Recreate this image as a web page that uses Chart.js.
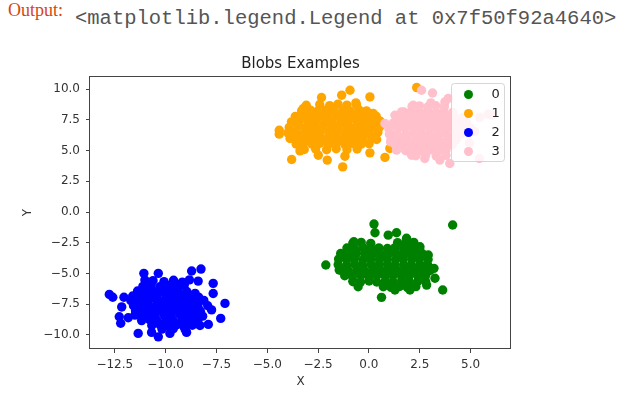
<!DOCTYPE html>
<html>
<head>
<meta charset="utf-8">
<script src="https://cdn.jsdelivr.net/npm/chart.js@4"></script>
<style>
  html, body { margin: 0; padding: 0; background: #fff; }
  #wrap { position: relative; width: 632px; height: 394px; overflow: hidden; }
  #chart { position: absolute; left: 0; top: 0; }
  .prompt { position: absolute; left: 8px; top: 1.4px; font: 18px/18px "Liberation Serif"; color: #D84315; }
  .out { position: absolute; left: 75px; top: 9.3px; font: 20.5px/20.5px "Liberation Mono"; color: #555; white-space: pre; }
</style>
</head>
<body>
<div id="wrap">
  <div class="prompt">Output:</div>
  <div class="out">&lt;matplotlib.legend.Legend at 0x7f50f92a4640&gt;</div>
  <canvas id="chart" width="632" height="394"></canvas>
</div>
<script>
const seriesLabels = ["0", "1", "2", "3"];
const seriesColors = ["green", "orange", "blue", "pink"];

// cluster 0
const blob0 = [
  [-2.12,-4.31],[0.25,-0.98],[0.30,-1.69],[4.12,-1.06],[3.63,-6.34],[0.62,-6.94],[-0.53,-6.08],[-0.77,-5.67],
  [-1.34,-3.64],[-1.46,-4.72],[-0.74,-2.42],[0.95,-1.88],[1.36,-1.69],[1.85,-2.14],[2.51,-2.83],[2.92,-3.50],
  [3.20,-4.58],[3.25,-5.39],[2.84,-5.94],[2.02,-6.34],[1.28,-6.34],
  [-0.79,-2.52],[-0.38,-2.47],[0.09,-2.55],[1.41,-2.49],[1.79,-2.54],[2.21,-2.47],
  [-1.08,-2.93],[-0.71,-2.98],[-0.29,-2.91],[0.11,-2.99],[0.49,-2.92],[0.91,-2.97],[1.29,-2.90],[1.71,-2.98],[2.09,-2.92],[2.49,-2.96],
  [-1.39,-3.38],[-0.98,-3.43],[-0.61,-3.36],[-0.19,-3.44],[0.21,-3.37],[0.58,-3.42],[1.01,-3.35],[1.39,-3.43],[1.81,-3.37],[2.19,-3.42],[2.61,-3.36],
  [-1.49,-3.83],[-1.09,-3.88],[-0.71,-3.81],[-0.29,-3.89],[0.09,-3.82],[0.51,-3.87],[0.89,-3.80],[1.31,-3.88],[1.69,-3.82],[2.11,-3.87],[2.49,-3.81],[2.91,-3.86],
  [-1.51,-4.28],[-1.09,-4.33],[-0.69,-4.26],[-0.31,-4.34],[0.11,-4.27],[0.49,-4.32],[0.91,-4.25],[1.29,-4.33],[1.71,-4.27],[2.09,-4.32],[2.51,-4.26],[2.89,-4.31],
  [-1.38,-4.73],[-1.01,-4.78],[-0.59,-4.71],[-0.21,-4.79],[0.19,-4.72],[0.61,-4.77],[0.99,-4.70],[1.41,-4.78],[1.79,-4.72],[2.21,-4.77],[2.59,-4.71],[3.01,-4.76],
  [-1.19,-5.18],[-0.81,-5.23],[-0.39,-5.16],[0.01,-5.24],[0.39,-5.17],[0.81,-5.22],[1.19,-5.15],[1.61,-5.23],[1.99,-5.17],[2.41,-5.22],[2.79,-5.16],
  [-0.79,-5.63],[-0.41,-5.68],[0.01,-5.61],[0.39,-5.69],[0.81,-5.62],[1.19,-5.67],[1.61,-5.60],[1.99,-5.68],[2.41,-5.62],[2.79,-5.66],
  [0.71,-6.08],[1.09,-6.13],[1.51,-6.06],[1.89,-6.14],[2.31,-6.07]
];

// cluster 1
const blob1 = [
  [-4.41,6.65],[-4.41,6.33],[-3.80,4.27],[-3.39,4.97],[-2.49,4.62],[-2.05,4.22],[-1.29,3.67],[-1.18,4.54],
  [0.05,4.81],[0.79,4.44],[-0.93,9.90],[-1.34,9.50],[0.05,9.36],[-2.33,9.31],[-3.23,8.42],[-0.64,8.87],
  [0.21,8.01],[0.38,5.90],[2.35,10.12],[-2.77,8.06],[0.46,7.20],[1.03,5.17],
  [-3.08,8.68],[-2.42,8.74],[-1.93,8.65],[-1.52,8.77],[-1.08,8.69],[-0.61,8.72],
  [-3.31,8.22],[-2.88,8.28],[-2.52,8.21],[-2.09,8.30],[-1.71,8.23],[-1.28,8.27],[-0.91,8.19],[-0.48,8.29],[-0.12,8.22],
  [-3.62,7.78],[-3.19,7.84],[-2.81,7.76],[-2.38,7.83],[-2.01,7.77],[-1.58,7.85],[-1.21,7.76],[-0.79,7.82],[-0.41,7.75],[0.02,7.84],[0.36,7.79],
  [-3.81,7.33],[-3.42,7.38],[-2.99,7.31],[-2.61,7.39],[-2.18,7.32],[-1.81,7.37],[-1.39,7.30],[-1.01,7.38],[-0.58,7.33],[-0.21,7.36],[0.19,7.31],[0.56,7.38],
  [-3.92,6.88],[-3.48,6.94],[-3.11,6.86],[-2.69,6.93],[-2.31,6.87],[-1.88,6.95],[-1.52,6.86],[-1.09,6.92],[-0.71,6.85],[-0.28,6.94],[0.09,6.88],[0.52,6.91],
  [-3.98,6.43],[-3.61,6.48],[-3.18,6.41],[-2.79,6.47],[-2.41,6.42],[-1.98,6.49],[-1.61,6.40],[-1.19,6.46],[-0.79,6.42],[-0.39,6.48],[0.01,6.41],[0.44,6.47],
  [-3.88,5.98],[-3.49,6.04],[-3.09,5.96],[-2.71,6.03],[-2.29,5.97],[-1.91,6.05],[-1.49,5.96],[-1.11,6.02],[-0.69,5.97],[-0.31,6.04],[0.14,5.99],
  [-3.58,5.53],[-3.21,5.58],[-2.79,5.51],[-2.41,5.59],[-1.99,5.52],[-1.61,5.57],[-1.19,5.50],[-0.81,5.58],[-0.38,5.52],[0.01,5.56],
  [-3.18,5.08],[-2.62,5.13],[-2.08,5.06],[-1.61,5.14],[-1.08,5.07],[-0.58,5.12]
];

// cluster 2
const blob2 = [
  [-12.77,-6.70],[-12.60,-6.93],[-12.05,-6.93],[-12.16,-7.72],[-12.28,-8.52],[-12.21,-9.05],[-11.84,-8.60],[-11.35,-9.87],
  [-10.69,-9.79],[-10.36,-10.15],[-9.79,-9.87],[-8.97,-9.79],[-11.07,-4.99],[-11.02,-5.53],[-10.36,-4.99],[-8.72,-4.80],
  [-8.26,-4.64],[-8.40,-5.62],[-7.66,-5.80],[-7.66,-6.63],[-7.08,-7.43],[-7.29,-8.65],[-7.74,-7.96],[-7.90,-9.14],
  [-8.31,-9.23],[-11.43,-7.70],[-11.51,-8.38],
  [-10.62,-5.58],[-10.08,-5.66],[-9.61,-5.55],[-9.18,-5.70],[-8.83,-5.52],
  [-11.12,-6.05],[-10.71,-5.94],[-10.28,-6.08],[-9.87,-5.98],[-9.46,-6.04],[-9.08,-5.92],
  [-11.38,-6.42],[-10.97,-6.35],[-10.58,-6.46],[-10.19,-6.38],[-9.77,-6.44],[-9.38,-6.33],[-8.96,-6.47],[-8.55,-6.62],
  [-11.62,-6.83],[-11.18,-6.77],[-10.79,-6.86],[-10.41,-6.74],[-9.98,-6.82],[-9.58,-6.88],[-9.21,-6.76],[-8.79,-6.85],[-8.38,-6.92],
  [-11.71,-7.22],[-11.29,-7.17],[-10.88,-7.26],[-10.47,-7.14],[-10.09,-7.23],[-9.69,-7.18],[-9.28,-7.27],[-8.91,-7.16],[-8.49,-7.24],[-8.12,-7.19],
  [-11.58,-7.62],[-11.19,-7.55],[-10.78,-7.66],[-10.39,-7.58],[-9.99,-7.63],[-9.61,-7.54],[-9.19,-7.65],[-8.82,-7.59],[-8.41,-7.68],[-7.93,-7.62],
  [-11.48,-8.03],[-11.08,-7.96],[-10.69,-8.05],[-10.31,-7.98],[-9.88,-8.06],[-9.51,-7.97],[-9.09,-8.04],[-8.71,-7.95],[-8.29,-8.07],
  [-11.27,-8.42],[-10.88,-8.36],[-10.51,-8.45],[-10.08,-8.38],[-9.72,-8.44],[-9.29,-8.35],[-8.91,-8.46],[-8.52,-8.39],[-8.18,-8.47],
  [-11.18,-8.83],[-10.79,-8.76],[-10.41,-8.86],[-9.98,-8.78],[-9.61,-8.84],[-9.19,-8.77],[-8.81,-8.88],[-8.42,-8.81],
  [-10.68,-9.22],[-10.28,-9.16],[-9.91,-9.25],[-9.48,-9.18],[-9.12,-9.26],[-8.69,-9.21],
  [-10.18,-9.52],[-9.62,-9.48],[-9.04,-9.55]
];

// cluster 3
const blob3 = [
  [2.59,9.90],[3.13,9.68],[3.05,8.87],[2.18,8.68],[1.61,8.14],[1.28,7.87],[0.79,7.20],[1.07,5.70],
  [1.36,5.03],[2.10,4.62],[2.75,4.35],[3.49,4.22],[3.98,3.95],[3.90,9.23],[3.74,8.95],[5.43,4.35],
  [5.46,7.70],[5.87,7.97],[6.04,7.88],[5.20,6.55],[4.95,5.60],
  [2.12,8.58],[2.49,8.63],[2.91,8.56],[3.29,8.64],[3.71,8.57],
  [1.72,8.13],[2.09,8.18],[2.51,8.11],[2.88,8.19],[3.31,8.12],[3.69,8.17],[4.12,8.10],
  [1.41,7.68],[1.79,7.73],[2.21,7.66],[2.59,7.74],[3.01,7.67],[3.38,7.72],[3.81,7.65],[4.19,7.74],[4.62,7.68],
  [1.19,7.23],[1.61,7.28],[1.98,7.21],[2.41,7.29],[2.79,7.22],[3.21,7.27],[3.59,7.20],[4.02,7.28],[4.38,7.22],[4.81,7.26],
  [0.98,6.78],[1.41,6.83],[1.79,6.76],[2.21,6.84],[2.58,6.77],[3.01,6.82],[3.39,6.75],[3.81,6.84],[4.18,6.77],[4.61,6.83],[5.01,6.79],
  [1.01,6.33],[1.38,6.38],[1.81,6.31],[2.19,6.39],[2.61,6.32],[2.98,6.37],[3.41,6.30],[3.79,6.38],[4.21,6.32],[4.58,6.36],
  [1.09,5.88],[1.51,5.93],[1.88,5.86],[2.31,5.94],[2.69,5.87],[3.11,5.92],[3.48,5.85],[3.91,5.93],[4.29,5.87],
  [1.31,5.43],[1.69,5.48],[2.11,5.41],[2.49,5.49],[2.91,5.42],[3.29,5.47],[3.71,5.40],[4.09,5.46],
  [1.81,4.98],[2.19,5.03],[2.61,4.96],[2.99,5.04],[3.41,4.97],[3.79,5.02],
  [2.31,4.58],[2.79,4.63],[3.31,4.56],[3.79,4.61]
];

const blobs = [blob0, blob1, blob2, blob3];
const xTicks = [-12.5, -10, -7.5, -5, -2.5, 0, 2.5, 5];
const yTicks = [-10, -7.5, -5, -2.5, 0, 2.5, 5, 7.5, 10];
const xLimits = [-13.72, 6.99];
const yLimits = [-11.14, 11.06];

function fmt(v) {
  return (v < 0 ? "\u2212" : "") + Math.abs(v).toFixed(1);
}

const tickFont = { family: "DejaVu Sans", size: 12 };

// box round the axes, drawn over the points like matplotlib spines
const frame = {
  id: "frame",
  afterDatasetsDraw(chart) {
    const ctx = chart.ctx, a = chart.chartArea;
    ctx.save();
    ctx.strokeStyle = "#444";
    ctx.lineWidth = 1;
    const l = Math.round(a.left) - 0.5, t = Math.round(a.top) + 0.5;
    const r = Math.round(a.right) - 0.5, b = Math.round(a.bottom) - 0.5;
    ctx.strokeRect(l, t, r - l, b - t);
    ctx.restore();
  }
};

// legend inside the axes, upper right, semi transparent
const boxLegend = {
  id: "boxLegend",
  afterDatasetsDraw(chart) {
    const ctx = chart.ctx, a = chart.chartArea;
    const w = 53, h = 78;
    const x0 = Math.round(a.right) - 7 - w + 0.5, y0 = Math.round(a.top) + 7 + 0.5;
    ctx.save();
    ctx.beginPath();
    ctx.roundRect(x0, y0, w, h, 3);
    ctx.fillStyle = "rgba(255,255,255,0.8)";
    ctx.fill();
    ctx.strokeStyle = "rgba(204,204,204,0.8)";
    ctx.lineWidth = 1;
    ctx.stroke();
    chart.data.datasets.forEach((ds, i) => {
      const cy = y0 + 11 + i * 19;
      ctx.beginPath();
      ctx.arc(x0 + 17, cy, 4.5, 0, Math.PI * 2);
      ctx.fillStyle = ds.backgroundColor;
      ctx.fill();
      ctx.fillStyle = "#222";
      ctx.font = "13px 'DejaVu Sans'";
      ctx.textBaseline = "middle";
      ctx.textAlign = "left";
      ctx.fillText(ds.label, x0 + 40, cy + 0.5);
    });
    ctx.restore();
  }
};

new Chart(document.getElementById("chart"), {
  type: "scatter",
  data: {
    datasets: blobs.map((pts, i) => ({
      label: seriesLabels[i],
      data: pts.map(p => ({ x: p[0], y: p[1] })),
      backgroundColor: seriesColors[i],
      borderColor: seriesColors[i],
      borderWidth: 0,
      pointRadius: 4.7,
      pointHoverRadius: 4.7,
      order: blobs.length - i
    }))
  },
  options: {
    responsive: false,
    animation: false,
    events: [],
    layout: { padding: { left: 0, right: 121, top: 0, bottom: 0 } },
    plugins: {
      legend: { display: false },
      tooltip: { enabled: false },
      title: {
        display: true,
        fullSize: false,
        text: "Blobs Examples",
        color: "#222",
        font: { family: "DejaVu Sans", size: 15, weight: "normal" },
        padding: { top: 54.7, bottom: 3.3 }
      }
    },
    scales: {
      x: {
        type: "linear",
        min: xLimits[0],
        max: xLimits[1],
        afterBuildTicks: s => { s.ticks = xTicks.map(v => ({ value: v })); },
        afterFit: s => { s.height = 45; },
        ticks: { callback: fmt, font: tickFont, color: "#333", padding: 5, maxRotation: 0, autoSkip: false },
        grid: { drawOnChartArea: false, drawTicks: true, tickLength: 4, tickColor: "#444", tickWidth: 1 },
        border: { display: false },
        title: { display: true, text: "X", color: "#333", font: tickFont, padding: { top: 0, bottom: 5 } }
      },
      y: {
        type: "linear",
        min: yLimits[0],
        max: yLimits[1],
        afterBuildTicks: s => { s.ticks = yTicks.map(v => ({ value: v })); },
        afterFit: s => { s.width = 90; },
        ticks: { callback: fmt, font: tickFont, color: "#333", padding: 6, autoSkip: false },
        grid: { drawOnChartArea: false, drawTicks: true, tickLength: 4, tickColor: "#444", tickWidth: 1 },
        border: { display: false },
        title: { display: true, text: "Y", color: "#333", font: tickFont, padding: { top: 21, bottom: 0 } }
      }
    }
  },
  plugins: [frame, boxLegend]
});
</script>
</body>
</html>
